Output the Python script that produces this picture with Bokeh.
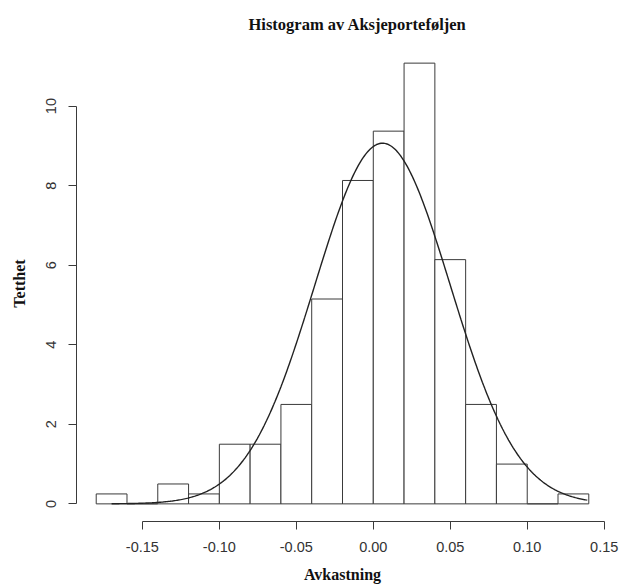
import numpy as np
from bokeh.plotting import figure
from bokeh.models import Range1d, FixedTicker, Title, PrintfTickFormatter
from bokeh.embed import file_html
from bokeh.resources import INLINE

# Histogram breaks (bin edges) and densities
bin_left = [-0.18, -0.16, -0.14, -0.12, -0.10, -0.08, -0.06, -0.04,
            -0.02, 0.00, 0.02, 0.04, 0.06, 0.08, 0.10, 0.12]
bin_right = [-0.16, -0.14, -0.12, -0.10, -0.08, -0.06, -0.04, -0.02,
             0.00, 0.02, 0.04, 0.06, 0.08, 0.10, 0.12, 0.14]
density = [0.25, 0.0, 0.5, 0.25, 1.5, 1.5, 2.5, 5.15,
           8.13, 9.37, 11.08, 6.14, 2.5, 1.0, 0.0, 0.25]

# Fitted normal density parameters
norm_mean = 0.006
norm_sd = 0.0440
curve_from = -0.17
curve_to = 0.139

x_ticks = [-0.15, -0.10, -0.05, 0.00, 0.05, 0.10, 0.15]
y_ticks = [0, 2, 4, 6, 8, 10]

title_text = "Histogram av Aksjeporteføljen"
x_label = "Avkastning"
y_label = "Tetthet"

# R-style 4% range extension
xmin, xmax = min(bin_left), max(bin_right)
ymin, ymax = 0.0, max(density)
dx = (xmax - xmin) * 0.04
dy = (ymax - ymin) * 0.04

p = figure(width=619, height=588, output_backend="svg", toolbar_location=None,
           x_range=Range1d(xmin - dx, xmax + dx),
           y_range=Range1d(ymin - dy, ymax + dy),
           min_border_left=76, min_border_right=11,
           min_border_top=45, min_border_bottom=67)
p.title = None
p.add_layout(Title(text=title_text, align="left", offset=172,
                   text_font="Liberation Serif", text_font_style="bold",
                   text_font_size="16.5px", text_color="#111111", standoff=24), "above")

p.xgrid.visible = False
p.ygrid.visible = False
p.outline_line_color = None
p.background_fill_color = "white"
p.border_fill_color = "white"

line_col = "#3a3a3a"
p.quad(left=bin_left, right=bin_right, top=density, bottom=0,
       fill_color="white", line_color=line_col, line_width=1)

xs = np.linspace(curve_from, curve_to, 400)
ys = np.exp(-0.5 * ((xs - norm_mean) / norm_sd) ** 2) / (norm_sd * np.sqrt(2 * np.pi))
p.line(xs, ys, line_color="#222222", line_width=1.4)

for ax in (p.xaxis[0], p.yaxis[0]):
    ax.axis_line_color = line_col
    ax.major_tick_line_color = line_col
    ax.minor_tick_line_color = None
    ax.major_tick_in = 0
    ax.major_tick_out = 8
    ax.major_label_text_font = "Liberation Sans"
    ax.major_label_text_font_size = "14.5px"
    ax.major_label_text_color = "#333333"
    ax.axis_label_text_font = "Liberation Serif"
    ax.axis_label_text_font_style = "bold"
    ax.axis_label_text_font_size = "16px"
    ax.axis_label_text_color = "#111111"

p.xaxis.ticker = FixedTicker(ticks=x_ticks)
p.xaxis.bounds = (x_ticks[0], x_ticks[-1])
p.xaxis.formatter = PrintfTickFormatter(format="%.2f")
p.xaxis.major_label_standoff = 12
p.xaxis.axis_label = x_label
p.xaxis.axis_label_standoff = 11

p.yaxis.ticker = FixedTicker(ticks=y_ticks)
p.yaxis.bounds = (y_ticks[0], y_ticks[-1])
p.yaxis.major_label_orientation = "vertical"
p.yaxis.major_label_standoff = 12
p.yaxis.axis_label = y_label
p.yaxis.axis_label_standoff = 16

open("out.html", "w").write(file_html(p, INLINE))
